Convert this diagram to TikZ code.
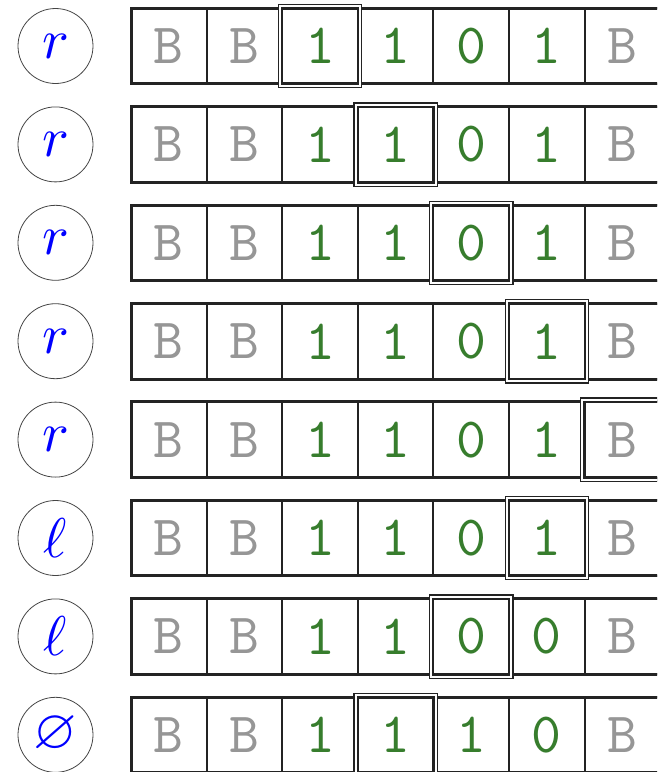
\documentclass[tikz,border=0pt]{standalone}
\usepackage{amssymb}
\usepackage{graphicx}
\usetikzlibrary{fit}
\definecolor{tapegreen}{RGB}{55,125,45}
\definecolor{tapegray}{RGB}{150,150,150}
\definecolor{lineblk}{RGB}{35,35,35}
\tikzset{
  cell/.style={draw=lineblk, line width=2pt, minimum size=75.6pt, inner sep=0pt,
    outer sep=0pt, anchor=north west, text=tapegreen},
  tape-B/.style={text=tapegray},
  frame/.style={draw=lineblk, line width=3pt, line join=miter},
  head/.style={draw=lineblk, double=white, double distance=2pt, line width=1.3pt, inner sep=2.2pt},
  state/.style={circle, draw=lineblk!85, line width=0.8pt, minimum size=75pt, inner sep=0pt, text=blue}
}
\newcommand\taperow[4]{%
  \pgfmathsetmacro\rowtop{8.3+98.4*#1}
  \node[state] (s-#1) at (55.5,\rowtop+37.7) {\scalebox{5.6}{$#2$}};
  \foreach \s [count=\j from 0] in {#4}{
    \node[cell, tape-\s/.try] (c-#1-\j) at (131+75.6*\j,\rowtop) {\scalebox{5.7}{\ttfamily\s}};
  }
  \draw[frame] (c-#1-6.north east) -- (c-#1-0.north west) -- (c-#1-0.south west) -- (c-#1-6.south east);
  \node[head, fit=(c-#1-#3)] (h-#1) {};
}
\begin{document}
\begin{tikzpicture}[x=1pt,y=-1pt]
\useasboundingbox (0,0) rectangle (657,772);
\clip (0,0) rectangle (657,772);
\taperow{0}{r}{2}{B,B,1,1,0,1,B}
\taperow{1}{r}{3}{B,B,1,1,0,1,B}
\taperow{2}{r}{4}{B,B,1,1,0,1,B}
\taperow{3}{r}{5}{B,B,1,1,0,1,B}
\taperow{4}{r}{6}{B,B,1,1,0,1,B}
\taperow{5}{\ell}{5}{B,B,1,1,0,1,B}
\taperow{6}{\ell}{4}{B,B,1,1,0,0,B}
\taperow{7}{\varnothing}{3}{B,B,1,1,1,0,B}
\end{tikzpicture}
\end{document}
